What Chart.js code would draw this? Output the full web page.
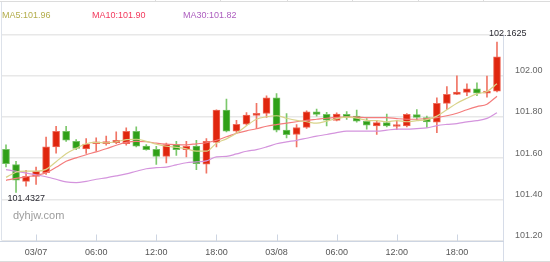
<!DOCTYPE html>
<html><head><meta charset="utf-8">
<script src="https://cdn.jsdelivr.net/npm/chart.js@4.4.0/dist/chart.umd.min.js"></script>
<style>html,body{margin:0;padding:0;background:#fff;}#wrap{width:550px;height:262px;position:relative}</style>
</head><body><div id="wrap"><canvas id="c" width="550" height="262"></canvas></div>
<script>
// hourly candles starting 03/06 21:00
const startDay = 6, startHour = 21, candleCount = 50;
const times = [];
for (let i = 0; i < candleCount; i++) {
  const h = startHour + i, d = startDay + Math.floor(h / 24), hh = h % 24;
  times.push(hh === 0 ? '03/' + String(d).padStart(2, '0') : String(hh).padStart(2, '0') + ':00');
}
const open = [101.642,101.568,101.487,101.511,101.529,101.654,101.730,101.681,101.644,101.669,
101.670,101.675,101.670,101.730,101.658,101.642,101.608,101.665,101.641,101.658,
101.570,101.676,101.832,101.730,101.764,101.807,101.816,101.892,101.735,101.714,
101.749,101.824,101.812,101.782,101.812,101.803,101.778,101.756,101.772,101.753,
101.756,101.811,101.796,101.774,101.865,101.909,101.918,101.936,101.915,101.924];
const close = [101.572,101.492,101.511,101.536,101.654,101.730,101.686,101.646,101.668,101.676,
101.678,101.686,101.730,101.657,101.641,101.608,101.665,101.641,101.657,101.572,
101.681,101.832,101.730,101.763,101.808,101.816,101.892,101.735,101.713,101.748,
101.824,101.812,101.783,101.813,101.799,101.779,101.759,101.772,101.756,101.758,
101.812,101.797,101.775,101.865,101.909,101.920,101.936,101.915,101.925,102.091];
const high = [101.664,101.584,101.540,101.556,101.701,101.754,101.754,101.690,101.694,101.698,
101.706,101.727,101.746,101.751,101.665,101.657,101.673,101.681,101.681,101.686,
101.694,101.834,101.886,101.783,101.820,101.865,101.902,101.913,101.815,101.762,
101.829,101.837,101.822,101.819,101.825,101.832,101.791,101.783,101.813,101.783,
101.816,101.835,101.804,101.892,101.947,101.999,101.960,101.965,101.997,102.1625];
const low = [101.557,101.4327,101.463,101.472,101.521,101.624,101.681,101.641,101.622,101.633,
101.662,101.670,101.662,101.654,101.638,101.569,101.576,101.613,101.605,101.544,
101.527,101.654,101.727,101.720,101.759,101.742,101.797,101.727,101.698,101.654,
101.743,101.803,101.756,101.780,101.787,101.774,101.740,101.714,101.751,101.737,
101.751,101.787,101.748,101.723,101.836,101.907,101.902,101.902,101.895,101.921];
const ma5 = [101.506,101.531,101.536,101.536,101.545,101.582,101.621,101.647,101.669,101.676,
101.674,101.679,101.689,101.691,101.681,101.667,101.657,101.652,101.645,101.633,
101.633,101.672,101.693,101.720,101.757,101.788,101.800,101.805,101.793,101.783,
101.776,101.769,101.779,101.791,101.798,101.793,101.783,101.781,101.776,101.781,
101.776,101.781,101.786,101.803,101.834,101.866,101.890,101.911,101.923,101.960];
const ma10 = [101.492,101.501,101.509,101.516,101.528,101.555,101.584,101.601,101.616,101.630,
101.645,101.662,101.676,101.681,101.679,101.672,101.667,101.665,101.664,101.669,
101.674,101.686,101.703,101.720,101.732,101.742,101.754,101.762,101.769,101.776,
101.783,101.788,101.793,101.797,101.798,101.798,101.796,101.796,101.796,101.791,
101.788,101.788,101.791,101.796,101.805,101.817,101.834,101.849,101.861,101.900];
const ma30 = [101.544,101.536,101.527,101.519,101.509,101.497,101.484,101.481,101.487,101.497,
101.504,101.513,101.523,101.536,101.548,101.553,101.556,101.567,101.577,101.581,
101.586,101.606,101.608,101.620,101.633,101.641,101.654,101.669,101.678,101.686,
101.696,101.706,101.714,101.723,101.730,101.730,101.730,101.730,101.735,101.740,
101.740,101.743,101.746,101.757,101.763,101.767,101.775,101.781,101.792,101.820];
const yTicks = [101.2, 101.4, 101.6, 101.8, 102.0, 102.2];

const FONT = '"Liberation Sans", Arial, sans-serif';
const UP = '#e0260e', UP_EDGE = '#ef6a5a', UP_WICK = '#f07565';
const DN = '#30a018', DN_EDGE = '#72c062', DN_WICK = '#7cc86c';
const idx = times.map((_, i) => i);
const isUp = i => close[i] >= open[i];
const xTickIdx = idx.filter(i => { const h = (startHour + i) % 24; return h % 6 === 0; });

const overlay = {
  id: 'overlay',
  beforeDatasetsDraw(chart) {
    const ctx = chart.ctx;
    ctx.save();
    ctx.font = '11px ' + FONT;
    ctx.fillStyle = '#9c9c9c';
    ctx.textAlign = 'left'; ctx.textBaseline = 'alphabetic';
    ctx.fillText('dyhjw.com', 13, 218.5);
    ctx.restore();
  },
  afterDraw(chart) {
    const ctx = chart.ctx, a = chart.chartArea, xs = chart.scales.x, ys = chart.scales.y;
    const W = chart.width;
    ctx.save();
    ctx.lineWidth = 1;
    // top strip remnants
    ctx.strokeStyle = '#dcdcdc';
    ctx.beginPath(); ctx.moveTo(0, 1.5); ctx.lineTo(W, 1.5); ctx.stroke();
    [155, 220, 287, 352, 418, 483].forEach(x => { ctx.beginPath(); ctx.moveTo(x + 0.5, 0); ctx.lineTo(x + 0.5, 2); ctx.stroke(); });
    // bottom line
    ctx.beginPath(); ctx.moveTo(0, 261.5); ctx.lineTo(W, 261.5); ctx.stroke();
    // left border
    ctx.strokeStyle = '#dde2ea';
    ctx.beginPath(); ctx.moveTo(1.5, 2); ctx.lineTo(1.5, a.bottom); ctx.stroke();
    // right axis line
    ctx.strokeStyle = '#d6dce8';
    ctx.beginPath(); ctx.moveTo(Math.round(a.right) + 0.5, a.top); ctx.lineTo(Math.round(a.right) + 0.5, 262); ctx.stroke();
    // x axis line + inward ticks
    const yb = Math.round(a.bottom) + 0.5;
    ctx.strokeStyle = '#cdd5e2';
    ctx.beginPath(); ctx.moveTo(0, yb); ctx.lineTo(Math.round(a.right) + 1, yb); ctx.stroke();
    xTickIdx.forEach(i => {
      const x = Math.round(xs.getPixelForValue(i)) + 0.5;
      ctx.beginPath(); ctx.moveTo(x, yb); ctx.lineTo(x, yb - 7); ctx.stroke();
    });
    // legend
    ctx.font = '9px ' + FONT;
    ctx.textAlign = 'left'; ctx.textBaseline = 'middle';
    const last = candleCount - 1;
    ctx.fillStyle = '#b3ad4c'; ctx.fillText('MA5:' + ma5[last].toFixed(2), 2, 16);
    ctx.fillStyle = '#f2395c'; ctx.fillText('MA10:' + ma10[last].toFixed(2), 92, 16);
    ctx.fillStyle = '#ad5ebf'; ctx.fillText('MA30:' + ma30[last].toFixed(2), 183, 16);
    // extreme labels
    let hi = 0, lo = 0;
    idx.forEach(i => { if (high[i] > high[hi]) hi = i; if (low[i] < low[lo]) lo = i; });
    ctx.fillStyle = '#2b2b33'; ctx.textBaseline = 'alphabetic';
    ctx.fillText(String(high[hi]), xs.getPixelForValue(hi) - 8, ys.getPixelForValue(high[hi]) - 6);
    ctx.fillText(String(low[lo]), xs.getPixelForValue(lo) - 8.5, ys.getPixelForValue(low[lo]) + 8);
    ctx.restore();
  }
};

const lineDs = (label, data, color) => ({
  type: 'line', label, data: idx.map(i => ({ x: i, y: data[i] })),
  borderColor: color, borderWidth: 1.2, pointRadius: 0, fill: false,
  cubicInterpolationMode: 'monotone', order: 1
});

new Chart(document.getElementById('c'), {
  data: {
    datasets: [
      lineDs('MA5', ma5, '#d9d38a'),
      lineDs('MA10', ma10, '#f47c7c'),
      lineDs('MA30', ma30, '#d494dd'),
      {
        type: 'bar', label: 'body', grouped: false, order: 2,
        data: idx.map(i => ({ x: i, y: [open[i], close[i]] })),
        backgroundColor: idx.map(i => isUp(i) ? UP : DN),
        borderColor: idx.map(i => isUp(i) ? UP_EDGE : DN_EDGE),
        borderWidth: 1, borderSkipped: false, barThickness: 7, minBarLength: 2
      },
      {
        type: 'bar', label: 'wick', grouped: false, order: 3,
        data: idx.map(i => ({ x: i, y: [low[i], high[i]] })),
        backgroundColor: idx.map(i => isUp(i) ? UP_WICK : DN_WICK),
        borderWidth: 0, barThickness: 1
      }
    ]
  },
  options: {
    responsive: false, animation: false, devicePixelRatio: 1,
    layout: { padding: { left: 2, top: 34.3, right: 0, bottom: 0 } },
    plugins: { legend: { display: false }, tooltip: { enabled: false } },
    scales: {
      x: {
        type: 'linear', position: 'bottom', min: -0.4, max: 49.6, offset: false,
        grid: { display: false, drawTicks: false }, border: { display: false },
        afterBuildTicks: s => { s.ticks = xTickIdx.map(v => ({ value: v })); },
        afterFit: s => { s.height = 21.5; },
        ticks: {
          autoSkip: false, maxRotation: 0, padding: 7, color: '#555',
          font: { size: 9, family: FONT },
          callback: v => times[Math.round(v)]
        }
      },
      y: {
        type: 'linear', position: 'right', min: 101.2, max: 102.2,
        grid: { color: '#e8e8e8', lineWidth: 1.5, drawTicks: false }, border: { display: false },
        afterBuildTicks: s => { s.ticks = yTicks.map(v => ({ value: v })); },
        afterFit: s => { s.width = 47; },
        ticks: {
          padding: 12, labelOffset: -5, color: '#666',
          font: { size: 9, family: FONT },
          callback: v => (v > 102.19 ? '' : v.toFixed(2))
        }
      }
    }
  },
  plugins: [overlay]
});
</script>
</body></html>
